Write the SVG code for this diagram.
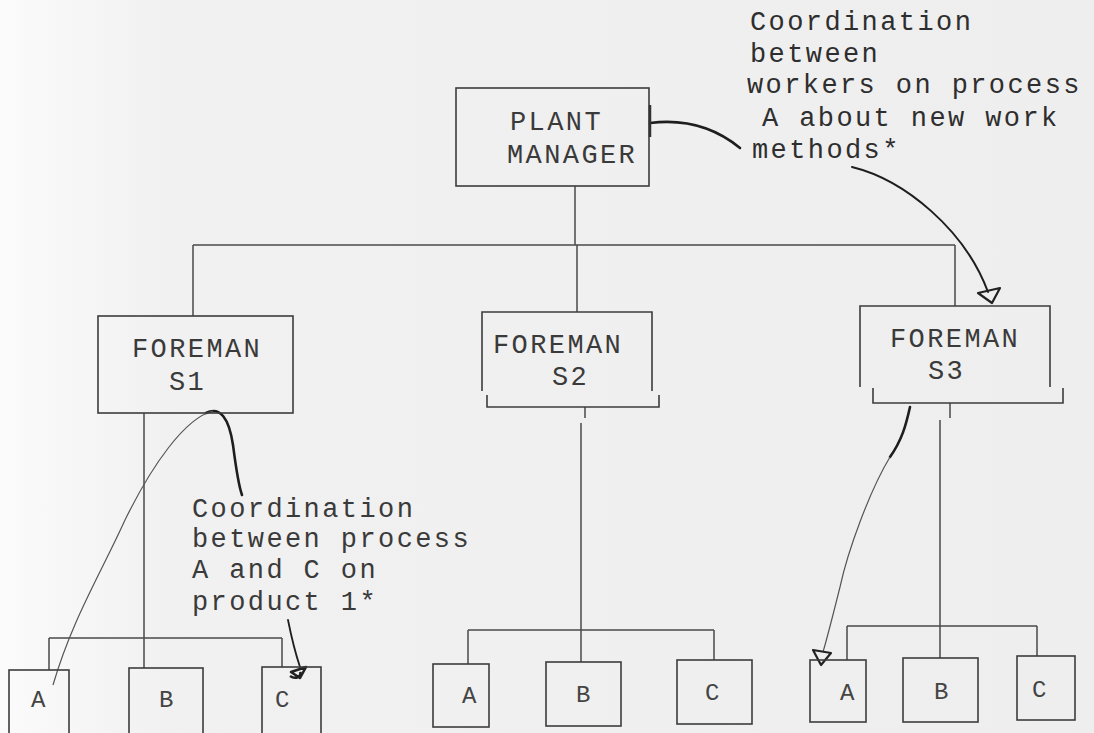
<svg xmlns="http://www.w3.org/2000/svg" width="1094" height="733" viewBox="0 0 1094 733">
<defs>
<linearGradient id="bg" x1="0" y1="0" x2="1" y2="0">
<stop offset="0" stop-color="#fbfbfb"/>
<stop offset="0.15" stop-color="#f1f1f1"/>
<stop offset="1" stop-color="#eeeeee"/>
</linearGradient>
<style>
.t{font-family:"Liberation Mono","Courier New",monospace;font-size:27px;letter-spacing:2.4px;fill:#3a3a3a}
.tl{font-family:"Liberation Mono","Courier New",monospace;font-size:27px;letter-spacing:2.4px;fill:#2e2e2e}
.tn{font-family:"Liberation Mono","Courier New",monospace;font-size:24px;fill:#444}
.box{fill:none;stroke:#3c3c3c;stroke-width:1.6}
.ln{fill:none;stroke:#4a4a4a;stroke-width:1.5}
.ink{fill:none;stroke:#1e1e1e;stroke-width:2.6;stroke-linecap:round}
.thin{fill:none;stroke:#555;stroke-width:1.2}
.arr{fill:none;stroke:#222;stroke-width:2.2;stroke-linejoin:round}
</style>
</defs>
<rect width="1094" height="733" fill="url(#bg)"/>

<g id="connectors">
<!-- plant manager to foremen bus -->
<path class="ln" d="M575,186 V245 M193,245 H955 M193,245 V316 M577,245 V312 M955,245 V306"/>
<!-- S1 children -->
<path class="ln" d="M144,413 V668 M49,638 H282 M49,638 V670 M282,638 V667"/>
<!-- S2 children -->
<path class="ln" d="M585,407 V418 M581,423 V662 M468,630 H714 M468,630 V664 M714,630 V660"/>
<!-- S3 children -->
<path class="ln" d="M950,403 V418 M940,420 V658 M847,626 H1037 M847,626 V660 M1037,626 V656"/>
<!-- annotation curves -->
<path class="ink" d="M650,123 C690,118 718,130 740,148"/>
<path class="ink" style="stroke-width:2" d="M852,167 C905,180 965,230 988,292"/>
<path class="arr" d="M978,293 L1000,288 L992,303 Z"/>
<path class="ink" d="M206,413 C220,406 229,418 233,445 C236,468 238,484 242,495"/>
<path class="thin" d="M213,411 C185,418 152,465 125,520 C100,575 72,620 53,685"/>
<path class="ink" style="stroke-width:1.8" d="M288,620 C292,640 296,655 300,667"/>
<path class="arr" style="stroke-width:2.6" d="M291,672 L306,667 L300,678 Z M290,676 C296,680 302,676 300,672"/>
<path class="ink" d="M910,407 C906,425 902,440 890,457"/>
<path class="thin" d="M890,457 C870,490 848,550 840,587 C833,615 828,635 823,652"/>
<path class="arr" d="M813,650 L831,653 L821,665 Z"/>
</g>

<g id="plant-manager">
<rect class="box" x="456" y="88" width="193" height="98"/>
<path d="M650,105 V137" stroke="#333" stroke-width="2.5"/>
<text class="t" x="510" y="130">PLANT</text>
<text class="t" x="507" y="163">MANAGER</text>
</g>

<g id="foreman-s1">
<rect class="box" x="98" y="316" width="195" height="97"/>
<text class="t" x="132" y="357">FOREMAN</text>
<text class="t" x="169" y="390">S1</text>
</g>

<g id="foreman-s2">
<path class="box" d="M482,391 V312 H652 V391 M487,395 V407 H659 V395"/>
<text class="t" x="493" y="353">FOREMAN</text>
<text class="t" x="552" y="385">S2</text>
</g>

<g id="foreman-s3">
<path class="box" d="M860,387 V306 H1050 V387 M873,388 V403 H1063 V388"/>
<text class="t" x="890" y="347">FOREMAN</text>
<text class="t" x="928" y="379">S3</text>
</g>

<g id="s1-a"><rect class="box" x="9" y="670" width="60" height="70"/><text class="tn" x="31" y="707">A</text></g>
<g id="s1-b"><rect class="box" x="129" y="668" width="74" height="72"/><text class="tn" x="159" y="707">B</text></g>
<g id="s1-c"><rect class="box" x="262" y="667" width="59" height="73"/><text class="tn" x="275" y="707">C</text></g>

<g id="s2-a"><rect class="box" x="433" y="664" width="56" height="63"/><text class="tn" x="462" y="703">A</text></g>
<g id="s2-b"><rect class="box" x="546" y="662" width="75" height="64"/><text class="tn" x="576" y="702">B</text></g>
<g id="s2-c"><rect class="box" x="677" y="660" width="75" height="64"/><text class="tn" x="705" y="700">C</text></g>

<g id="s3-a"><rect class="box" x="810" y="660" width="56" height="62"/><text class="tn" x="840" y="700">A</text></g>
<g id="s3-b"><rect class="box" x="903" y="658" width="75" height="64"/><text class="tn" x="934" y="699">B</text></g>
<g id="s3-c"><rect class="box" x="1017" y="656" width="58" height="64"/><text class="tn" x="1032" y="697">C</text></g>

<g id="label-top">
<text class="tl" x="750" y="30">Coordination</text>
<text class="tl" x="750" y="62">between</text>
<text class="tl" x="747" y="93">workers on process</text>
<text class="tl" x="762" y="126">A about new work</text>
<text class="tl" x="752" y="158">methods*</text>
</g>

<g id="label-s1">
<text class="t" x="192" y="517">Coordination</text>
<text class="t" x="192" y="547">between process</text>
<text class="t" x="192" y="578">A and C on</text>
<text class="t" x="192" y="610">product 1*</text>
</g>
</svg>
